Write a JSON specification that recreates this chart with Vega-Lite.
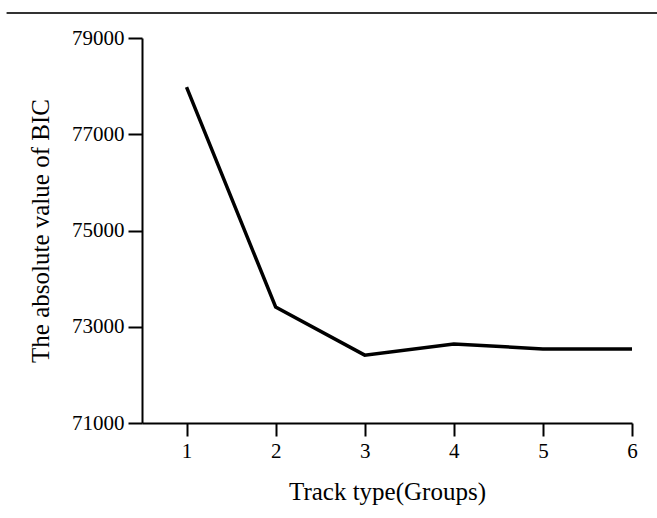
{
  "$schema": "https://vega.github.io/schema/vega-lite/v6.json",
  "width": 490,
  "height": 385,
  "autosize": {"type": "none"},
  "padding": {"left": 142, "top": 38, "right": 25, "bottom": 95},
  "background": "white",
  "config": {
    "view": {"stroke": null},
    "font": "Liberation Serif",
    "axis": {
      "labelFont": "Liberation Serif",
      "titleFont": "Liberation Serif",
      "labelFontSize": 21,
      "titleFontSize": 25,
      "titleFontWeight": "normal",
      "labelColor": "#000",
      "titleColor": "#000",
      "domainColor": "#000",
      "domainWidth": 2,
      "tickColor": "#000",
      "tickWidth": 2,
      "grid": false
    }
  },
  "layer": [
    {
      "data": {"values": [
        {"group": 1, "bic": 77980},
        {"group": 2, "bic": 73410},
        {"group": 3, "bic": 72410},
        {"group": 4, "bic": 72640},
        {"group": 5, "bic": 72540},
        {"group": 6, "bic": 72540}
      ]},
      "mark": {"type": "line", "color": "#000", "strokeWidth": 3.5, "strokeJoin": "miter"},
      "encoding": {
        "x": {
          "field": "group", "type": "quantitative",
          "scale": {"domain": [0.5, 6], "nice": false, "zero": false},
          "axis": {"values": [1, 2, 3, 4, 5, 6], "format": "d", "tickSize": 13, "labelPadding": 4, "title": "Track type(Groups)", "titlePadding": 18, "labelFlush": false}
        },
        "y": {
          "field": "bic", "type": "quantitative",
          "scale": {"domain": [71000, 79000], "nice": false, "zero": false},
          "axis": {"values": [71000, 73000, 75000, 77000, 79000], "format": "d", "tickSize": 14, "labelPadding": 4, "title": "The absolute value of BIC", "titlePadding": 18, "labelFlush": false}
        }
      }
    },
    {
      "data": {"values": [{"x1": -1.02, "x2": 6.3, "y": 79520}]},
      "mark": {"type": "rule", "color": "#333", "strokeWidth": 2, "clip": false},
      "encoding": {
        "x": {"field": "x1", "type": "quantitative"},
        "x2": {"field": "x2"},
        "y": {"field": "y", "type": "quantitative"}
      }
    }
  ]
}
